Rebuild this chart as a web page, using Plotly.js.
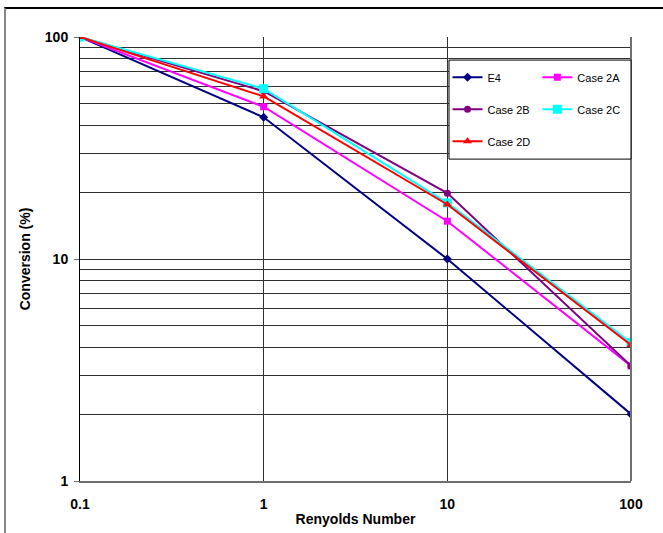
<!DOCTYPE html>
<html>
<head>
<meta charset="utf-8">
<script src="https://cdn.plot.ly/plotly-3.0.1.min.js"></script>
<style>
  html, body { margin: 0; padding: 0; background: #fff; }
  #wrap { position: relative; width: 663px; height: 533px; overflow: hidden; }
  #chart { position: absolute; left: 0; top: 0; width: 663px; height: 533px; }
  #frame { position: absolute; left: 4px; top: 7px; width: 700px; height: 600px;
           border-top: 2px solid #000; border-left: 2px solid #888; pointer-events: none; }
</style>
</head>
<body>
<div id="wrap">
  <div id="chart"></div>
  <div id="frame"></div>
</div>
<script>
const reynolds = [0.1, 1, 10, 100];
const e4     = [100, 43.5, 10, 2.0];
const case2A = [100, 48.5, 14.8, 3.3];
const case2B = [100, 57.0, 19.8, 3.3];
const case2C = [100, 58.5, 17.9, 4.2];
const case2D = [100, 54.0, 17.6, 4.1];

const seriesNames = ['E4', 'Case 2A', 'Case 2B', 'Case 2C', 'Case 2D'];
const seriesData = [e4, case2A, case2B, case2C, case2D];
const colors = ['#000080', '#FF00FF', '#800080', '#00FFFF', '#FF0000'];
const symbols = ['diamond', 'square', 'circle', 'square', 'triangle-up'];
const sizes = [7, 7, 7, 9, 8];
const legendColumn = ['legend', 'legend2', 'legend', 'legend2', 'legend'];

const yMajor = [1, 10, 100];
const yMajorText = ['1', '10', '100'];
const yMinor = [2, 3, 4, 5, 6, 7, 8, 9, 20, 30, 40, 50, 60, 70, 80, 90];
const xMajor = [0.1, 1, 10, 100];
const xMajorText = ['0.1', '1', '10', '100'];

const traces = seriesNames.map((n, i) => ({
  x: reynolds, y: seriesData[i], name: n, type: 'scatter', mode: 'lines+markers',
  legend: legendColumn[i], legendgroup: 'g' + i,
  line: { color: colors[i], width: 2 },
  marker: { color: colors[i], symbol: symbols[i], size: sizes[i] }
}));

const fam = 'Liberation Sans, Arial, sans-serif';
const tickFont = { family: fam, size: 14, color: '#000', weight: 'bold' };
const legFont = { size: 11, family: fam, color: '#000' };

const layout = {
  width: 663, height: 533,
  margin: { l: 80, r: 32, t: 37, b: 52 },
  paper_bgcolor: '#fff', plot_bgcolor: '#fff',
  font: { family: fam, color: '#000' },
  xaxis: {
    type: 'log', range: [-1, 2],
    tickvals: xMajor, ticktext: xMajorText,
    ticks: '', ticklabelstandoff: 9,
    tickfont: tickFont,
    showgrid: true, gridcolor: '#303030', gridwidth: 1,
    showline: true, linecolor: '#707070', linewidth: 2,
    zeroline: false,
    title: { text: '<b>Renyolds Number</b>', font: { size: 14, family: fam }, standoff: 3 }
  },
  yaxis: {
    type: 'log', range: [0, 2],
    tickvals: yMajor, ticktext: yMajorText,
    ticks: 'outside', ticklen: 5, tickcolor: '#707070', tickwidth: 1,
    ticklabelstandoff: 3,
    tickfont: tickFont,
    showgrid: true, gridcolor: '#303030', gridwidth: 1,
    minor: { tickvals: yMinor, showgrid: true, gridcolor: '#303030', gridwidth: 1, ticks: '' },
    showline: true, linecolor: '#000', linewidth: 1,
    zeroline: false,
    title: { text: '<b>Conversion (%)</b>', font: { size: 14, family: fam }, standoff: 10 }
  },
  shapes: [
    { type: 'line', xref: 'paper', yref: 'paper', x0: 1, x1: 1, y0: 0, y1: 1,
      line: { color: '#707070', width: 2 } },
    { type: 'rect', xref: 'paper', yref: 'paper', layer: 'above',
      x0: 0.6697, x1: 1, y0: 0.725, y1: 0.948,
      fillcolor: '#fff', line: { color: '#000', width: 1 } }
  ],
  legend: {
    x: 0.667, y: 0.942, xanchor: 'left', yanchor: 'top',
    orientation: 'v', tracegroupgap: 13,
    bgcolor: 'rgba(0,0,0,0)', borderwidth: 0,
    font: legFont, itemwidth: 30
  },
  legend2: {
    x: 0.830, y: 0.942, xanchor: 'left', yanchor: 'top',
    orientation: 'v', tracegroupgap: 13,
    bgcolor: 'rgba(0,0,0,0)', borderwidth: 0,
    font: legFont, itemwidth: 30
  },
  showlegend: true
};

Plotly.newPlot('chart', traces, layout, { displayModeBar: false, staticPlot: true });
</script>
</body>
</html>
